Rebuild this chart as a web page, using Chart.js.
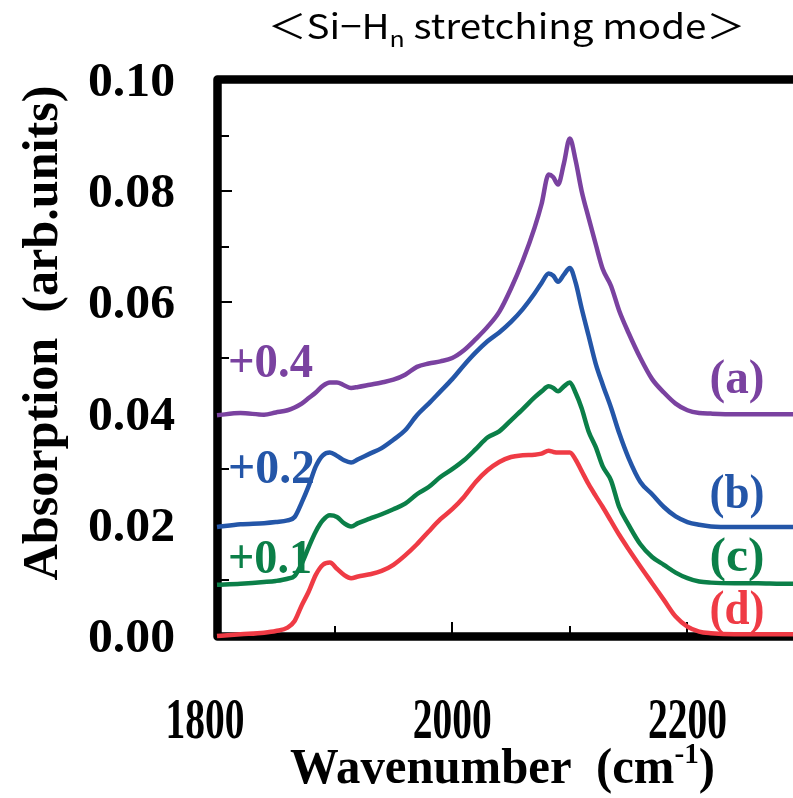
<!DOCTYPE html>
<html>
<head>
<meta charset="utf-8">
<script src="https://cdn.jsdelivr.net/npm/chart.js@4.4.1/dist/chart.umd.min.js"></script>
<style>
  html, body { margin: 0; padding: 0; background: #fff; overflow: hidden; }
  #wrap { width: 793px; height: 798px; overflow: hidden; }
</style>
</head>
<body>
<div id="wrap"><canvas id="spectrum" width="810" height="798"></canvas></div>
<script>
// Wavenumber grid (cm-1) shared by all four spectra
const waveNumbers = [1800, 1820, 1840, 1850, 1860, 1866, 1872, 1878, 1884, 1890, 1896, 1902, 1908, 1914, 1920,
    1930, 1940, 1950, 1960, 1970, 1980, 1990, 2000, 2010, 2020, 2030, 2040, 2050, 2060, 2070, 2076, 2082, 2086,
    2090, 2095, 2100, 2105, 2110, 2116, 2122, 2128, 2135, 2142, 2150, 2160, 2170, 2180, 2190, 2200, 2210, 2220,
    2240, 2260, 2280, 2300];

// (a) purple, shifted
const seriesA = [0.0397, 0.0401, 0.0398, 0.0402, 0.0406, 0.0411, 0.0418, 0.0428, 0.0438, 0.0450, 0.0456, 0.0456,
    0.0451, 0.0446, 0.0448, 0.0452, 0.0456, 0.0461, 0.0470, 0.0484, 0.0490, 0.0494, 0.0500, 0.0514, 0.0534, 0.0556,
    0.0583, 0.0625, 0.0675, 0.0734, 0.0777, 0.0830, 0.0825, 0.0812, 0.0850, 0.0895, 0.0855, 0.0801, 0.0752, 0.0705,
    0.0660, 0.0630, 0.0585, 0.0545, 0.0500, 0.0462, 0.0438, 0.0418, 0.0406, 0.0401, 0.0400, 0.0399, 0.0399, 0.0399,
    0.0399];

// (b) blue
const seriesB = [0.0196, 0.0201, 0.0203, 0.0205, 0.0208, 0.0214, 0.0240, 0.0270, 0.0305, 0.0325, 0.0330, 0.0324,
    0.0316, 0.0312, 0.0318, 0.0328, 0.0338, 0.0353, 0.0370, 0.0397, 0.0418, 0.0440, 0.0462, 0.0487, 0.0510, 0.0530,
    0.0546, 0.0565, 0.0588, 0.0616, 0.0635, 0.0652, 0.0648, 0.0637, 0.0650, 0.0662, 0.0635, 0.0590, 0.0540, 0.0490,
    0.0452, 0.0411, 0.0365, 0.0320, 0.0277, 0.0255, 0.0232, 0.0215, 0.0205, 0.0200, 0.0197, 0.0196, 0.0196, 0.0196,
    0.0196];

// (c) green
const seriesC = [0.0092, 0.0094, 0.0097, 0.0099, 0.0103, 0.0108, 0.0130, 0.0160, 0.0188, 0.0208, 0.0217, 0.0214,
    0.0203, 0.0197, 0.0203, 0.0211, 0.0219, 0.0228, 0.0238, 0.0255, 0.0268, 0.0286, 0.0300, 0.0316, 0.0336, 0.0357,
    0.0368, 0.0388, 0.0408, 0.0429, 0.0440, 0.0449, 0.0446, 0.0440, 0.0449, 0.0456, 0.0437, 0.0410, 0.0368, 0.0340,
    0.0305, 0.0280, 0.0232, 0.0200, 0.0165, 0.0142, 0.0128, 0.0114, 0.0104, 0.0098, 0.0096, 0.0095, 0.0095, 0.0094,
    0.0094];

// (d) red
const seriesD = [0.0000, 0.0003, 0.0006, 0.0009, 0.0015, 0.0027, 0.0055, 0.0080, 0.0110, 0.0128, 0.0132, 0.0121,
    0.0110, 0.0104, 0.0107, 0.0111, 0.0117, 0.0128, 0.0145, 0.0165, 0.0188, 0.0210, 0.0228, 0.0250, 0.0277, 0.0298,
    0.0313, 0.0322, 0.0325, 0.0326, 0.0328, 0.0333, 0.0331, 0.0330, 0.0330, 0.0330, 0.0317, 0.0297, 0.0273, 0.0252,
    0.0232, 0.0207, 0.0182, 0.0156, 0.0125, 0.0095, 0.0065, 0.0035, 0.0017, 0.0008, 0.0005, 0.0003, 0.0003, 0.0003,
    0.0003];

const yTickLabels = [0.00, 0.02, 0.04, 0.06, 0.08, 0.10];
const yTickMarks = [0.01, 0.02, 0.03, 0.04, 0.05, 0.06, 0.07, 0.08, 0.09];
const xTickLabels = [1800, 2000, 2200];
const xTickMarks = [1900, 2000, 2100, 2200];

const seriesNames = ['(a)', '(b)', '(c)', '(d)'];
const offsetNames = ['+0.4', '+0.2', '+0.1'];

const PURPLE = '#7a42a0';
const BLUE = '#2456a8';
const GREEN = '#0b7f48';
const RED = '#ef3b45';
const SERIF = '"Liberation Serif", "Times New Roman", serif';

// draw text squeezed/stretched horizontally to a given width
const fitText = (ctx, text, x, y, font, color, align, width) => {
    ctx.save();
    ctx.font = font;
    ctx.fillStyle = color;
    ctx.textAlign = align;
    ctx.textBaseline = 'alphabetic';
    const sx = width ? width / ctx.measureText(text).width : 1;
    ctx.translate(x, y);
    ctx.scale(sx, 1);
    ctx.fillText(text, 0, 0);
    ctx.restore();
};

const toPoints = values => waveNumbers.map((w, i) => ({ x: w, y: values[i] }));

const framePlugin = {
    id: 'frame',
    beforeDatasetsDraw(chart) {
        const { ctx, chartArea: area, scales } = chart;
        ctx.save();
        // thick frame: top, left, bottom (right side is outside the picture)
        ctx.strokeStyle = '#000';
        ctx.lineWidth = 8.5;
        ctx.lineJoin = 'round';
        ctx.beginPath();
        ctx.moveTo(area.right + 20, area.top - 0.5);
        ctx.lineTo(area.left + 0.5, area.top - 0.5);
        ctx.lineTo(area.left + 0.5, area.bottom + 0.5);
        ctx.lineTo(area.right + 20, area.bottom + 0.5);
        ctx.stroke();

        // inward tick marks
        ctx.lineWidth = 2;
        ctx.beginPath();
        yTickMarks.forEach(v => {
            const py = Math.round(scales.y.getPixelForValue(v));
            const len = Math.round(v * 100) % 2 === 0 ? 15 : 12;
            ctx.moveTo(area.left, py);
            ctx.lineTo(area.left + len, py);
        });
        xTickMarks.forEach(v => {
            const px = Math.round(scales.x.getPixelForValue(v));
            const len = v % 200 === 0 ? 14 : 10;
            ctx.moveTo(px, area.bottom);
            ctx.lineTo(px, area.bottom - len);
        });
        ctx.stroke();
        ctx.restore();
    },
    afterDatasetsDraw(chart) {
        const { ctx, scales } = chart;
        const bold = size => `bold ${size}px ${SERIF}`;

        // axis tick labels
        yTickLabels.forEach(v => {
            const py = scales.y.getPixelForValue(v);
            fitText(ctx, v.toFixed(2), 175, py + 16, bold(48), '#000', 'right', 87);
        });
        xTickLabels.forEach((v, i) => {
            // first label sits a little left of the axis corner
            const px = scales.x.getPixelForValue(v) - (i === 0 ? 12 : 0);
            fitText(ctx, String(v), px, 738, bold(58), '#000', 'center', 79);
        });

        // x axis title with superscript
        ctx.save();
        ctx.fillStyle = '#000';
        ctx.textBaseline = 'alphabetic';
        ctx.textAlign = 'left';
        ctx.font = bold(50);
        const mainTxt = 'Wavenumber  (cm';
        const w1 = ctx.measureText(mainTxt).width;
        const w3 = ctx.measureText(')').width;
        ctx.font = bold(30);
        const w2 = ctx.measureText('-1').width;
        const sx = 425 / (w1 + w2 + w3);
        ctx.translate(290, 783);
        ctx.scale(sx, 1);
        ctx.font = bold(50);
        ctx.fillText(mainTxt, 0, 0);
        ctx.font = bold(30);
        ctx.fillText('-1', w1, -20);
        ctx.font = bold(50);
        ctx.fillText(')', w1 + w2, 0);
        ctx.restore();

        // y axis title
        ctx.save();
        ctx.translate(57, 333);
        ctx.rotate(-Math.PI / 2);
        fitText(ctx, 'Absorption  (arb.units)', 0, 0, bold(50), '#000', 'center', 495);
        ctx.restore();

        // top caption
        ctx.save();
        ctx.fillStyle = '#000';
        ctx.textAlign = 'left';
        ctx.textBaseline = 'alphabetic';
        const sans = size => `${size}px "Noto Sans CJK JP", "Noto Sans", sans-serif`;
        const p1 = '＜Si−H', p2 = 'n', p3 = ' stretching mode＞';
        ctx.font = sans(34);
        const a1 = ctx.measureText(p1).width;
        const a3 = ctx.measureText(p3).width;
        ctx.font = sans(22);
        const a2 = ctx.measureText(p2).width;
        const tsx = 477 / (a1 + a2 + a3);
        ctx.translate(268, 39);
        ctx.scale(tsx, 1);
        ctx.font = sans(34);
        ctx.fillText(p1, 0, 0);
        ctx.font = sans(22);
        ctx.fillText(p2, a1, 8);
        ctx.font = sans(34);
        ctx.fillText(p3, a1 + a2, 0);
        ctx.restore();

        // offset notes and curve names
        fitText(ctx, offsetNames[0], 228, 377, bold(48), PURPLE, 'left', 85);
        fitText(ctx, offsetNames[1], 228, 483, bold(48), BLUE, 'left', 87);
        fitText(ctx, offsetNames[2], 228, 573, bold(48), GREEN, 'left', 84);
        fitText(ctx, seriesNames[0], 737, 393, bold(48), PURPLE, 'center', 55);
        fitText(ctx, seriesNames[1], 737, 508, bold(48), BLUE, 'center', 55);
        fitText(ctx, seriesNames[2], 737, 571, bold(48), GREEN, 'center', 55);
        fitText(ctx, seriesNames[3], 737, 624, bold(48), RED, 'center', 55);
    }
};

const makeSet = (label, values, color) => ({
    label: label,
    data: toPoints(values),
    borderColor: color,
    backgroundColor: color,
    borderWidth: 4.5,
    pointRadius: 0,
    cubicInterpolationMode: 'monotone',
    clip: false
});

new Chart(document.getElementById('spectrum'), {
    type: 'line',
    data: {
        datasets: [
            makeSet(seriesNames[3], seriesD, RED),
            makeSet(seriesNames[2], seriesC, GREEN),
            makeSet(seriesNames[1], seriesB, BLUE),
            makeSet(seriesNames[0], seriesA, PURPLE)
        ]
    },
    options: {
        responsive: false,
        animation: false,
        devicePixelRatio: 1,
        layout: { padding: { left: 217, top: 80, right: 5, bottom: 162 } },
        plugins: {
            legend: { display: false },
            tooltip: { enabled: false }
        },
        scales: {
            x: { type: 'linear', min: 1800, max: 2300, display: false },
            y: { min: 0, max: 0.1, display: false }
        }
    },
    plugins: [framePlugin]
});
</script>
</body>
</html>
